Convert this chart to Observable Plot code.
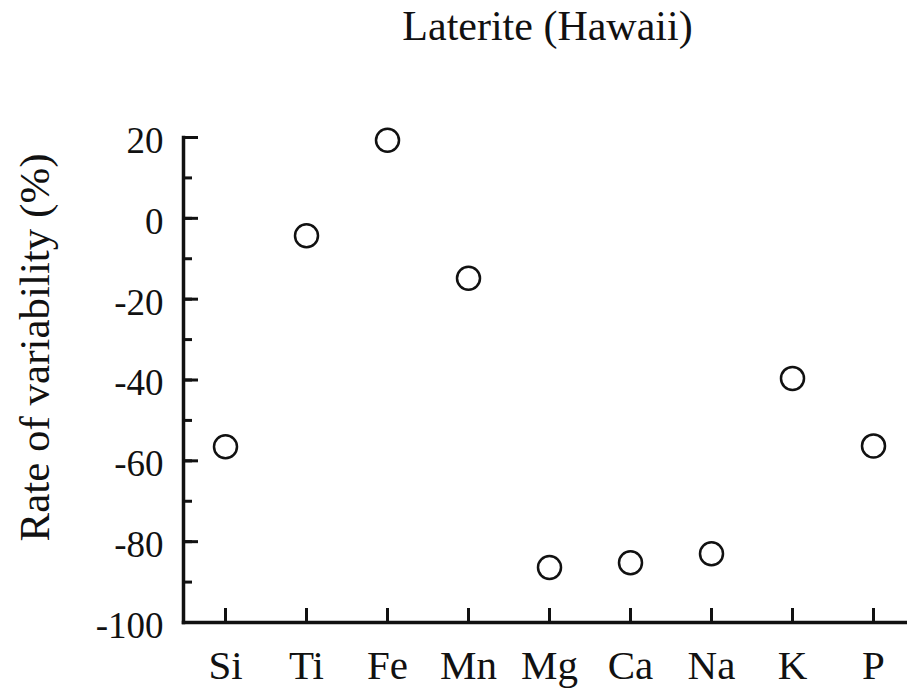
<!DOCTYPE html>
<html>
<head>
<meta charset="utf-8">
<script src="https://cdn.jsdelivr.net/npm/d3@7"></script>
<script src="https://cdn.jsdelivr.net/npm/@observablehq/plot@0.6"></script>
<style>
  body { margin: 0; background: #fff; }
  #title {
    font-family: "Liberation Serif", "Times New Roman", serif;
    font-size: 42px; line-height: 42px; height: 70px; box-sizing: border-box;
    padding-top: 5px; width: 907px; text-align: center; text-indent: 188px; color: #111;
  }
</style>
</head>
<body>
<div id="title">Laterite (Hawaii)</div>
<div id="chart"></div>
<script>
// Elements along the x axis
const elements = ["Si", "Ti", "Fe", "Mn", "Mg", "Ca", "Na", "K", "P"];
// Rate of variability (%) for each element
const rates = [-56.5, -4.3, 19.3, -14.8, -86.4, -85.2, -83.0, -39.6, -56.3];
// Y-axis ticks
const majorTicks = [-100, -80, -60, -40, -20, 0, 20];
const minorTicks = [-100, -90, -80, -70, -60, -50, -40, -30, -20, -10, 0, 10, 20];

const data = elements.map((el, i) => ({element: el, rate: rates[i]}));

const chart = Plot.plot({
  width: 907,
  height: 622,
  marginTop: 67,
  marginBottom: 70,
  marginLeft: 183,
  marginRight: 0,
  style: {fontFamily: "'Liberation Serif', 'Times New Roman', serif", fontSize: "37px", color: "#111", background: "#fff"},
  x: {type: "point", domain: elements, padding: 0, insetLeft: 42, insetRight: 34, label: null},
  y: {domain: [-100, 20], label: null},
  marks: [
    Plot.frame({anchor: "left", stroke: "#111", strokeWidth: 3.5}),
    Plot.frame({anchor: "bottom", stroke: "#111", strokeWidth: 3.5}),
    // inward ticks: minor every 10, major every 20
    Plot.axisY({ticks: minorTicks, tickSize: -9, text: null, strokeWidth: 3, stroke: "#111", label: null}),
    Plot.axisY({ticks: majorTicks, tickSize: -15, text: null, strokeWidth: 3, stroke: "#111", label: null}),
    Plot.axisY({ticks: majorTicks, tickSize: 0, tickPadding: 20, dy: 3.5, fill: "#111", label: null, tickFormat: (d) => `${d}`}),
    Plot.axisX({tickSize: -14, text: null, strokeWidth: 3, stroke: "#111", label: null}),
    Plot.axisX({tickSize: 0, tickPadding: 27, fontSize: 41, fill: "#111", label: null}),
    Plot.text(["Rate of variability (%)"], {frameAnchor: "left", textAnchor: "middle", lineAnchor: "middle", rotate: -90, dx: -148, dy: -32.5, fontSize: 43, fill: "#111"}),
    Plot.dot(data, {x: "element", y: "rate", r: 11.5, stroke: "#111", strokeWidth: 2.5, fill: "none"})
  ]
});
document.getElementById("chart").append(chart);
</script>
</body>
</html>
